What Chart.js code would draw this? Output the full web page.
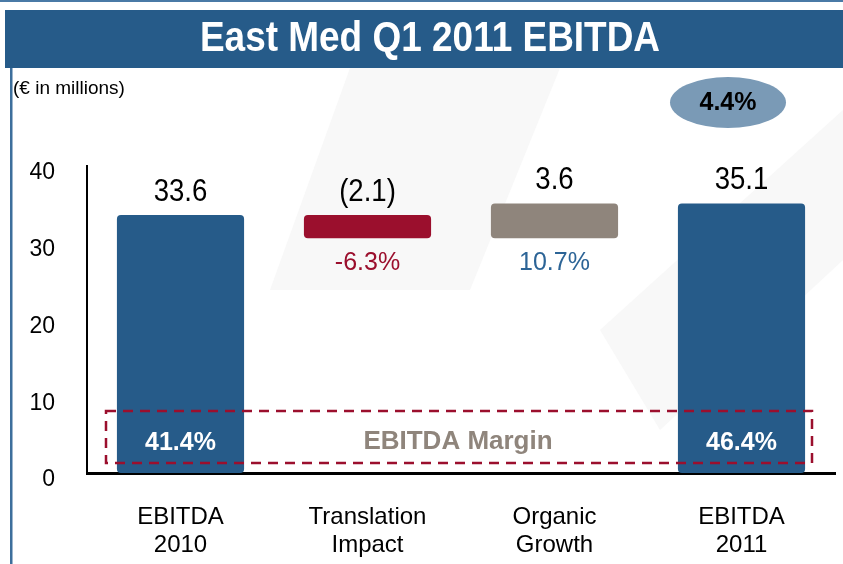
<!DOCTYPE html>
<html>
<head>
<meta charset="utf-8">
<script src="https://cdn.jsdelivr.net/npm/chart.js@4.4.1/dist/chart.umd.min.js"></script>
<style>
    html, body { margin: 0; padding: 0; background: #fff; }
    #caixa { width: 843px; height: 564px; position: relative; }
</style>
</head>
<body>
<div id="caixa"><canvas id="ebitdaChart"></canvas></div>
<script>
// dados do grafico
const categorias = [['EBITDA', '2010'], ['Translation', 'Impact'], ['Organic', 'Growth'], ['EBITDA', '2011']];
const inicioBarras = [0, 30.6, 30.6, 0];
const fimBarras = [33.6, 33.6, 35.1, 35.1];
const rotulosValor = ['33.6', '(2.1)', '3.6', '35.1'];
const rotulosVariacao = ['', '-6.3%', '10.7%', ''];
const margens = ['41.4%', '', '', '46.4%'];
const ticksY = [0, 10, 20, 30, 40];
const titulo = 'East Med Q1 2011 EBITDA';
const unidade = '(€ in millions)';
const crescimento = '4.4%';

const FONTE = '"Liberation Sans", Arial, sans-serif';
const AZUL = '#265b89';
const VERMELHO = '#9b0f2d';
const CINZA = '#8f857c';
const coresBarras = [AZUL, VERMELHO, CINZA, AZUL];
const coresVariacao = ['#000', VERMELHO, '#2c6496', '#000'];

function escrever(ctx, txt, x, y, fonte, cor, escalaX, alinhar) {
    ctx.save();
    ctx.translate(x, y);
    ctx.scale(escalaX || 1, 1);
    ctx.font = fonte;
    ctx.fillStyle = cor;
    ctx.textAlign = alinhar || 'center';
    ctx.textBaseline = 'middle';
    ctx.fillText(txt, 0, 0);
    ctx.restore();
}

const fundo = {
    id: 'fundo',
    beforeDraw(chart) {
        const ctx = chart.ctx;
        ctx.save();
        ctx.fillStyle = '#fff';
        ctx.fillRect(0, 0, chart.width, chart.height);

        // marca d'agua bem clara
        ctx.fillStyle = '#f8f8f8';
        ctx.beginPath();
        ctx.moveTo(350, 68); ctx.lineTo(560, 68); ctx.lineTo(470, 290); ctx.lineTo(270, 290);
        ctx.closePath(); ctx.fill();
        ctx.beginPath();
        ctx.moveTo(600, 330); ctx.lineTo(843, 110); ctx.lineTo(843, 260); ctx.lineTo(660, 430);
        ctx.closePath(); ctx.fill();

        // moldura e faixa do titulo
        ctx.fillStyle = '#4a7aa6';
        ctx.fillRect(0, 0, chart.width, 2);
        ctx.fillStyle = AZUL;
        ctx.fillRect(5, 10, chart.width - 5, 58);
        ctx.fillStyle = '#3d6f9c';
        ctx.fillRect(10, 68, 2.5, chart.height - 68);

        escrever(ctx, titulo, 430, 39, 'bold 42px ' + FONTE, '#fff', 0.88);
        escrever(ctx, unidade, 13, 89, '19px ' + FONTE, '#000', 1, 'left');

        ctx.fillStyle = '#7a9ab6';
        ctx.beginPath();
        ctx.ellipse(728, 102.5, 58, 25.5, 0, 0, Math.PI * 2);
        ctx.fill();
        escrever(ctx, crescimento, 728, 103, 'bold 25px ' + FONTE, '#000', 1);
        ctx.restore();
    }
};

const rotulos = {
    id: 'rotulos',
    afterDatasetsDraw(chart) {
        const ctx = chart.ctx;
        const meta = chart.getDatasetMeta(0);

        // caixa tracejada da margem
        ctx.save();
        ctx.strokeStyle = VERMELHO;
        ctx.lineWidth = 2.5;
        ctx.setLineDash([10, 7]);
        ctx.strokeRect(106, 411, 706, 52);
        ctx.restore();

        meta.data.forEach((barra, i) => {
            escrever(ctx, rotulosValor[i], barra.x, barra.y - 23, '31px ' + FONTE, '#000', 0.89);
            if (rotulosVariacao[i]) {
                escrever(ctx, rotulosVariacao[i], barra.x, barra.base + 25, '25px ' + FONTE, coresVariacao[i], 1);
            }
            if (margens[i]) {
                escrever(ctx, margens[i], barra.x, 443, 'bold 25px ' + FONTE, '#fff', 1);
            }
        });
        escrever(ctx, 'EBITDA Margin', 458, 442, 'bold 26px ' + FONTE, CINZA, 1);
    }
};

function criarChart() {
    const ctx = document.getElementById('ebitdaChart').getContext('2d');
    new Chart(ctx, {
        type: 'bar',
        data: {
            labels: categorias,
            datasets: [{
                data: inicioBarras.map((v, i) => [v, fimBarras[i]]),
                backgroundColor: coresBarras,
                borderRadius: 4,
                borderSkipped: false,
                barPercentage: 0.68,
                categoryPercentage: 1
            }]
        },
        options: {
            responsive: true,
            maintainAspectRatio: false,
            animation: false,
            layout: { padding: { top: 166, right: 8, left: 0, bottom: 0 } },
            plugins: {
                legend: { display: false },
                tooltip: { enabled: false }
            },
            scales: {
                x: {
                    z: 1,
                    grid: { display: false, drawTicks: false },
                    border: { display: true, color: '#000', width: 3 },
                    ticks: {
                        color: '#000',
                        font: { family: FONTE, size: 24, lineHeight: 1.15 },
                        padding: 31,
                        maxRotation: 0,
                        autoSkip: false
                    },
                    afterFit(scale) { scale.height = 91; }
                },
                y: {
                    min: 0,
                    max: 40,
                    afterBuildTicks(scale) { scale.ticks = ticksY.map(v => ({ value: v })); },
                    grid: { display: false, drawTicks: false },
                    border: { display: true, color: '#000', width: 2 },
                    ticks: {
                        color: '#000',
                        font: { family: FONTE, size: 23 },
                        padding: 32,
                        labelOffset: 7
                    },
                    afterFit(scale) { scale.width = 87; }
                }
            }
        },
        plugins: [fundo, rotulos]
    });
}

criarChart();
</script>
</body>
</html>
